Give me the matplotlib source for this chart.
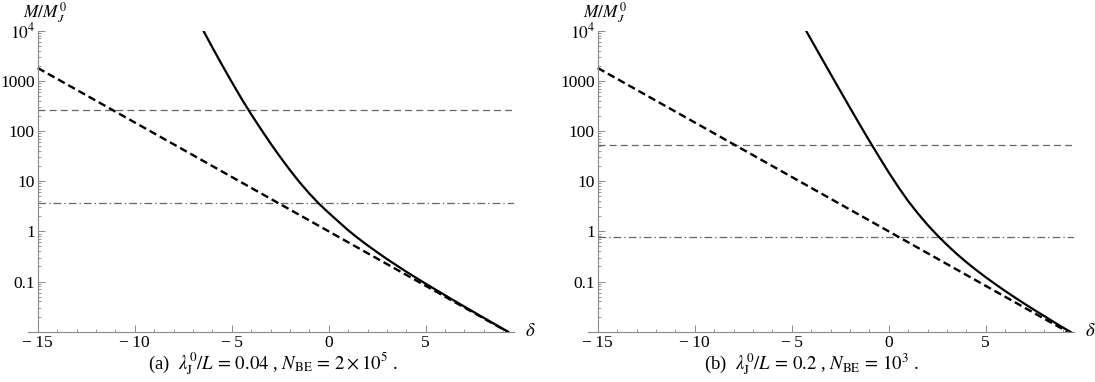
import matplotlib
matplotlib.use("Agg")
import matplotlib.pyplot as plt
import numpy as np
from matplotlib.ticker import FixedLocator, FixedFormatter, LogLocator, NullFormatter

plt.rcParams['font.family'] = ['Liberation Serif', 'DejaVu Serif']
plt.rcParams['mathtext.fontset'] = 'stix'
plt.rcParams['lines.scale_dashes'] = False

# ---- data ----
# thick dashed reference line (straight in log scale), same in both panels
dash_delta = [-15.0, 9.21]
dash_mass = [1808.0, 0.01]

# panel (a): solid curve
a_delta = [-6.46, -6.0, -5.5, -5.0, -4.5, -4.0, -3.5, -3.0, -2.5, -2.0, -1.5, -1.0, -0.5,
           0.0, 0.5, 1.0, 1.5, 2.0, 2.5, 3.0, 3.5, 4.0, 4.5, 5.0, 5.5, 6.0, 6.5, 7.0,
           7.5, 8.0, 8.5, 9.0, 9.3]
a_mass = [10000, 4667, 2084, 953, 446, 217, 110, 56.9, 30.4, 16.7, 9.51, 5.69, 3.55,
          2.34, 1.57, 1.054, 0.738, 0.527, 0.384, 0.281, 0.210, 0.157, 0.119, 0.0904,
          0.0693, 0.0532, 0.0409, 0.0315, 0.0244, 0.0188, 0.0146, 0.0113, 0.00973]
a_hdash = 263.0
a_hdashdot = 3.75

# panel (b): solid curve
b_delta = [-4.26, -4.0, -3.5, -3.0, -2.5, -2.0, -1.5, -1.0, -0.5, 0.0, 0.5, 1.0, 1.5,
           2.0, 2.5, 3.0, 3.5, 4.0, 4.5, 5.0, 5.5, 6.0, 6.5, 7.0, 7.5, 8.0, 8.5, 9.0, 9.5]
b_mass = [10000, 6637, 3027, 1384, 635, 293, 136, 64.1, 30.7, 15.0, 7.62, 4.03, 2.29,
          1.35, 0.841, 0.540, 0.357, 0.244, 0.171, 0.122, 0.0885, 0.0649, 0.0482,
          0.0361, 0.0272, 0.0207, 0.0157, 0.0120, 0.00925]
b_hdash = 52.9
b_hdashdot = 0.766

captions = [r"(a)  $\lambda_{\rm J}^{0}/L\,=\,0.04$ , $N_{\rm BE}\,=\,2\times10^{5}$ .",
            r"(b)  $\lambda_{\rm J}^{0}/L\,=\,0.2$ , $N_{\rm BE}\,=\,10^{3}$ ."]
caption_x_px = [273, 812]

x_ticks = [-15, -10, -5, 0, 5]
x_labels = ["\u2212\u200915", "\u2212\u200910", "\u2212\u20095", "0", "5"]
y_ticks = [0.1, 1, 10, 100, 1000, 10000]
y_labels = ["0.1", "1", "10", "100", "1000", r"$10^{4}$"]

W, H = 1095, 382
fig = plt.figure(figsize=(W / 100, H / 100), dpi=100)

axcol = '#888888'
xmin, xmax = -15.5, 9.55
ymin, ymax = 0.01, 1e4

panels = [
    (28, a_delta, a_mass, a_hdash, a_hdashdot),
    (588, b_delta, b_mass, b_hdash, b_hdashdot),
]
for i, (left_px, sd, sm, hd, hdd) in enumerate(panels):
    width_px = (xmax - xmin) * 19.4
    ax = fig.add_axes([left_px / W, 1 - 331.7 / H, width_px / W, (331.7 - 30.7) / H])
    ax.set_xlim(xmin, xmax)
    ax.set_yscale('log')
    ax.set_ylim(ymin, ymax)

    ax.hlines(hd, -15, xmax, colors='#666666', linewidth=0.9, linestyles=(0, (5.0, 3.0)))
    ax.hlines(hdd, -15, xmax, colors='#666666', linewidth=0.9, linestyles=(0, (5.5, 2.2, 1.0, 2.2)))
    ax.plot(dash_delta, dash_mass, color='black', linewidth=1.7, linestyle=(0, (5.5, 2.9)))
    ax.plot(sd, sm, color='black', linewidth=1.6, solid_capstyle='butt', solid_joinstyle='round')

    for s in ['top', 'right']:
        ax.spines[s].set_visible(False)
    ax.spines['left'].set_position(('data', -15))
    ax.spines['left'].set_color(axcol)
    ax.spines['bottom'].set_color(axcol)
    ax.spines['left'].set_linewidth(0.8)
    ax.spines['bottom'].set_linewidth(0.8)

    ax.xaxis.set_major_locator(FixedLocator(x_ticks))
    ax.xaxis.set_major_formatter(FixedFormatter(x_labels))
    ax.xaxis.set_minor_locator(FixedLocator([v for v in range(-15, 10) if v % 5 != 0]))
    ax.yaxis.set_major_locator(FixedLocator(y_ticks))
    ax.yaxis.set_major_formatter(FixedFormatter(y_labels))
    ax.yaxis.set_minor_locator(LogLocator(base=10, subs=np.arange(2, 10), numticks=20))
    ax.yaxis.set_minor_formatter(NullFormatter())

    ax.tick_params(which='major', direction='in', length=5, width=0.7, color=axcol,
                   labelsize=12.5, labelcolor='black')
    ax.tick_params(which='minor', direction='in', length=2.5, width=0.6, color=axcol)
    ax.tick_params(axis='x', which='major', pad=2.5)
    ax.tick_params(axis='y', which='major', pad=2)
    ax.patch.set_alpha(0)

    # axis labels
    ax.annotate(r"$M/M_J^{0}$", xy=(-15, ymax), xycoords='data',
                xytext=(5, 9.5), textcoords='offset points',
                ha='center', va='baseline', fontsize=12.5, annotation_clip=False)
    ax.text(xmax + 0.85, ymin, r"$\delta$", ha='center', va='center', fontsize=13.5,
            transform=ax.transData, clip_on=False)

    fig.text(caption_x_px[i] / W, 1 - 364 / H, captions[i], ha='center', va='center',
             fontsize=13.5)

fig.savefig("out.png", dpi=100)
